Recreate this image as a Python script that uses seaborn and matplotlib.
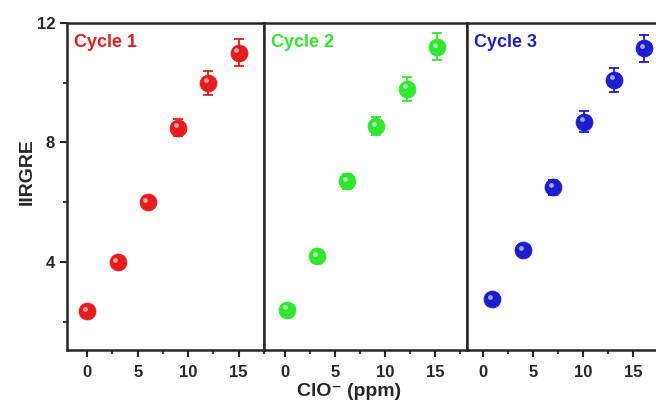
import numpy as np
import pandas as pd
import seaborn as sns
import matplotlib.pyplot as plt
from matplotlib.ticker import MultipleLocator

# values
cycles = ["Cycle 1", "Cycle 2", "Cycle 3"]
colors = {"Cycle 1": "#e81c1c", "Cycle 2": "#2ee82e", "Cycle 3": "#1c1cd0"}

x_c1 = [0, 3, 6, 9, 12, 15]
y_c1 = [2.35, 4.0, 6.0, 8.5, 10.0, 11.0]
e_c1 = [0.1, 0.1, 0.2, 0.3, 0.4, 0.45]

x_c2 = [0.2, 3.2, 6.2, 9.1, 12.2, 15.2]
y_c2 = [2.4, 4.2, 6.7, 8.55, 9.8, 11.2]
e_c2 = [0.1, 0.1, 0.25, 0.3, 0.4, 0.45]

x_c3 = [0.9, 4.0, 7.0, 10.1, 13.1, 16.1]
y_c3 = [2.75, 4.4, 6.5, 8.7, 10.1, 11.15]
e_c3 = [0.1, 0.1, 0.25, 0.35, 0.4, 0.45]

df = pd.DataFrame({
    "x": x_c1 + x_c2 + x_c3,
    "y": y_c1 + y_c2 + y_c3,
    "err": e_c1 + e_c2 + e_c3,
    "cycle": ["Cycle 1"] * 6 + ["Cycle 2"] * 6 + ["Cycle 3"] * 6,
})

sns.set_style("ticks")
plt.rcParams["font.family"] = ["Liberation Sans", "DejaVu Sans"]
plt.rcParams["font.weight"] = "bold"
plt.rcParams["axes.linewidth"] = 1.8

fig = plt.figure(figsize=(6.56, 4.05), dpi=100)
W, H = 656, 405
# panel boxes in pixels: left, right
boxes = [(67, 264), (264, 467), (467, 660)]
xlims = [(-2.0, 17.5), (-2.1, 18.2), (-1.6, 17.7)]
top, bottom = 23, 350

axes = []
for i, (cyc, (l, r)) in enumerate(zip(cycles, boxes)):
    ax = fig.add_axes([l / W, 1 - bottom / H, (r - l) / W, (bottom - top) / H])
    sub = df[df["cycle"] == cyc]
    c = colors[cyc]
    ax.errorbar(sub["x"], sub["y"], yerr=sub["err"], fmt="none", ecolor=c,
                elinewidth=1.3, capsize=3.5, capthick=1.3, zorder=2)
    sns.scatterplot(data=sub, x="x", y="y", color=c, s=150, edgecolor=c,
                    linewidth=0.5, ax=ax, zorder=3, legend=False)
    # little highlight to mimic the shaded spheres
    ax.scatter(sub["x"] - 0.25, sub["y"] + 0.08, s=12, color="white",
               alpha=0.6, zorder=4, linewidths=0)
    ax.set_xlim(*xlims[i])
    ax.set_ylim(1.05, 12)
    ax.set_xlabel("")
    ax.set_ylabel("")
    ax.xaxis.set_major_locator(MultipleLocator(5))
    ax.xaxis.set_minor_locator(MultipleLocator(2.5))
    ax.tick_params(axis="x", which="major", length=5, width=1.5, labelsize=12, pad=6)
    ax.tick_params(axis="x", which="minor", length=3, width=1.3)
    for lab in ax.get_xticklabels():
        lab.set_fontweight("bold")
    if i == 0:
        ax.yaxis.set_major_locator(MultipleLocator(4))
        ax.yaxis.set_minor_locator(MultipleLocator(2))
        ax.set_yticks([4, 8, 12])
        ax.tick_params(axis="y", which="major", length=5, width=1.5, labelsize=12)
        ax.tick_params(axis="y", which="minor", length=3, width=1.3)
        for lab in ax.get_yticklabels():
            lab.set_fontweight("bold")
    else:
        ax.tick_params(axis="y", which="both", left=False, labelleft=False)
    if i == 2:
        ax.spines["right"].set_visible(False)
    ax.text(0.035, 0.965, cyc, transform=ax.transAxes, color=colors[cyc],
            fontsize=13, fontweight="bold", ha="left", va="top")
    axes.append(ax)

fig.text(27 / W, 1 - 172 / H, "IIRGRE", rotation=90, fontsize=14,
         fontweight="bold", ha="center", va="center")
fig.text(349 / W, 1 - 392 / H, "ClO⁻ (ppm)", fontsize=14,
         fontweight="bold", ha="center", va="center")

fig.savefig("out.png", dpi=100)
